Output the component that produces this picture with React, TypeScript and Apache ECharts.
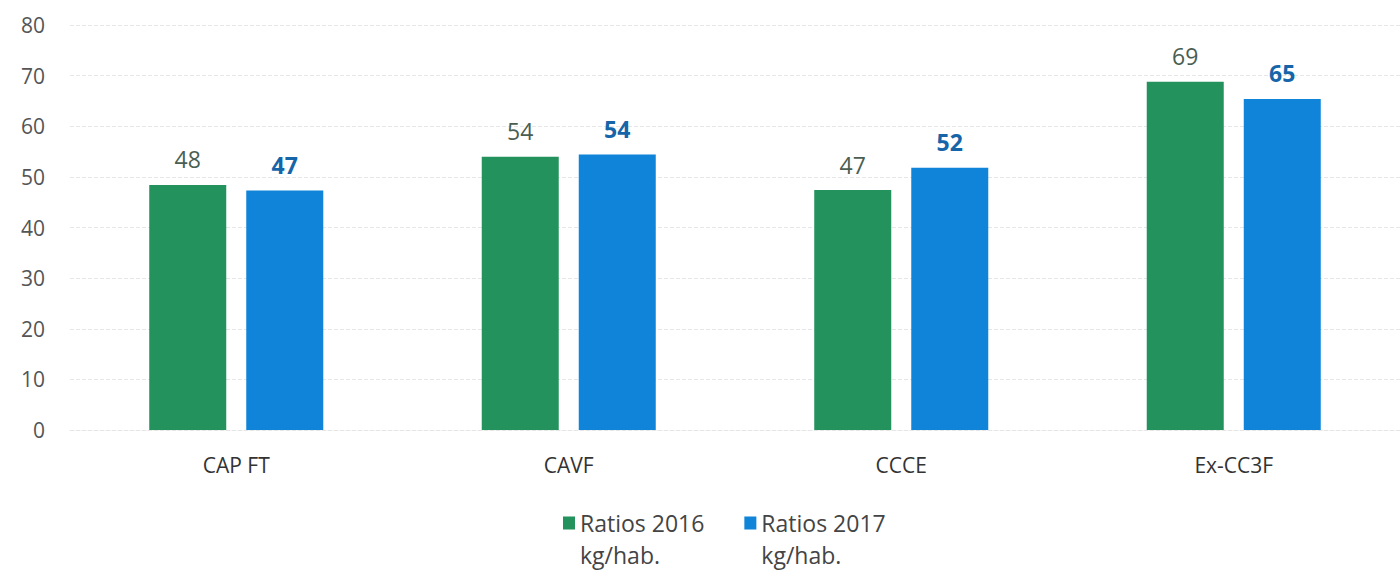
import React, { useEffect, useRef } from "react";
import * as echarts from "echarts";

const categories = ["CAP FT", "CAVF", "CCCE", "Ex-CC3F"];
const ratios2016 = [48.4, 54.0, 47.4, 68.8];
const ratios2017 = [47.3, 54.4, 51.8, 65.4];
const seriesNames = ["Ratios 2016\nkg/hab.", "Ratios 2017\nkg/hab."];

const FONT = "'Open Sans', 'Noto Sans', sans-serif";
const LEGEND_ICON = "path://M0,0L12,0L12,13L0,13Z M0,44.95L0.01,44.95L0.01,45L0,45Z";

export default function App() {
  const ref = useRef<HTMLDivElement>(null);
  useEffect(() => {
    if (!ref.current) return;
    const chart = echarts.init(ref.current, null, { renderer: "svg" });
    chart.setOption({
      animation: false,
      backgroundColor: "#ffffff",
      grid: { left: 70, width: 1360, top: 25, height: 405 },
      legend: {
        data: seriesNames,
        left: 563,
        top: 507,
        padding: 0,
        itemWidth: 12,
        itemHeight: 45,
        itemGap: 40,
        icon: LEGEND_ICON,
        textStyle: { fontFamily: FONT, fontSize: 23, color: "#444", lineHeight: 32 },
      },
      xAxis: {
        type: "category",
        data: categories,
        axisLine: { show: true, lineStyle: { color: "#e6e6e6", type: "dashed" } },
        axisTick: { show: false },
        axisLabel: { fontFamily: FONT, fontSize: 21, color: "#333", margin: 24 },
      },
      yAxis: {
        type: "value",
        min: 0,
        max: 80,
        interval: 10,
        axisLine: { show: false },
        axisTick: { show: false },
        axisLabel: { fontFamily: FONT, fontSize: 21, color: "#555", margin: 25 },
        splitLine: { lineStyle: { color: "#e6e6e6", type: "dashed", width: 1 } },
      },
      series: [
        {
          name: seriesNames[0],
          type: "bar",
          data: ratios2016,
          barWidth: 77,
          barGap: "26%",
          itemStyle: { color: "#23925c" },
          label: {
            show: true,
            position: "top",
            distance: 14,
            formatter: (p: any) => String(Math.round(p.value)),
            fontFamily: FONT,
            fontSize: 23,
            color: "#4a5e52",
          },
        },
        {
          name: seriesNames[1],
          type: "bar",
          data: ratios2017,
          barWidth: 77,
          itemStyle: { color: "#0f84d8" },
          label: {
            show: true,
            position: "top",
            distance: 14,
            formatter: (p: any) => String(Math.round(p.value)),
            fontFamily: FONT,
            fontSize: 23,
            fontWeight: "bold",
            color: "#1565a8",
          },
        },
      ],
    });
    return () => chart.dispose();
  }, []);
  return (
    <div
      ref={ref}
      style={{ position: "absolute", left: 0, top: 0, width: 1400, height: 572 }}
    />
  );
}
